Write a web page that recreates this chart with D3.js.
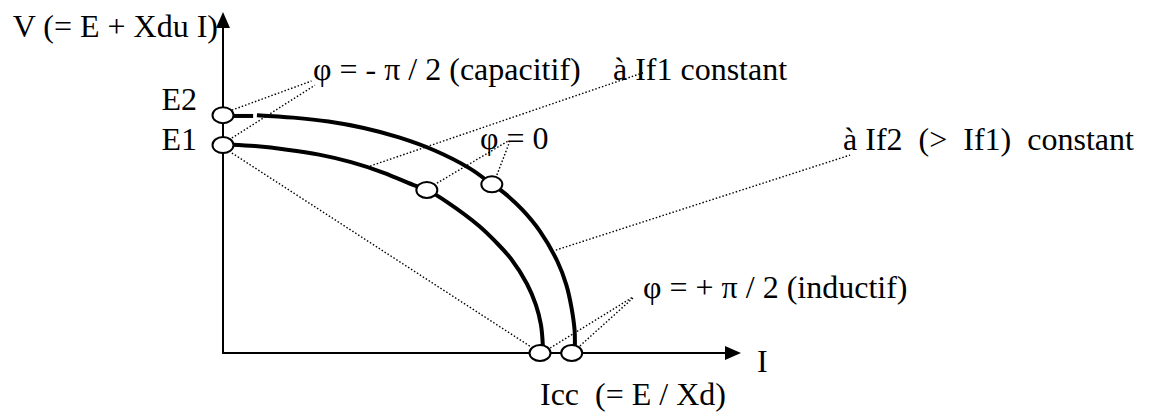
<!DOCTYPE html>
<html>
<head>
<meta charset="utf-8">
<script src="https://cdn.jsdelivr.net/npm/d3@7"></script>
<style>
  body { margin: 0; background: #fff; }
  svg { display: block; }
  text { font-family: "Liberation Serif", "Times New Roman", Times, serif; font-size: 32px; fill: #000; white-space: pre; }
</style>
</head>
<body>
<svg id="chart" width="1156" height="416"></svg>
<script>
// Units: current I scaled so that Icc at If1 = 100, voltage V scaled so that E1 = 100
const iMax = 163.4;
const vMax = 164;

// Operating characteristic V(I) at constant field current If1 (inner curve)
const if1Curve = [
  [2.8, 100.2], [10.1, 99.5], [20.2, 97.8], [30.3, 95.4], [40.4, 91.8],
  [50.5, 86.8], [60.6, 80.5], [64.4, 78.4], [70.7, 72.6], [80.8, 61.1],
  [85.8, 53.8], [90.9, 45.2], [95.9, 33.2], [98.7, 23.1], [100.3, 13.5],
  [100.9, 3.4]
];

// Operating characteristic at constant field current If2 > If1 (outer curve)
const if2Lead = [[2.8, 114], [9.5, 114]];
const if2Curve = [
  [10.7, 114.4], [22.2, 113.2], [33.3, 111.3], [44.4, 108.2], [55.5, 103.7],
  [66.6, 97.5], [77.7, 88.9], [84.9, 81.1], [88.8, 76.9], [94.4, 68.9],
  [99.9, 58.7], [105.5, 44.0], [108.3, 32.8], [109.9, 22.1], [110.9, 11.1],
  [111.0, 3.8]
];

// Characteristic points: E2, E1, phi = 0 on each curve, Icc on each curve
const pointI = [0, 0, 64.3, 84.8, 100, 110];
const pointV = [114.4, 100, 78.4, 81.1, 0, 0];

// Dotted leader lines from marks to annotations
const leaders = [
  [[2.8, 116.8], [27.9, 130.8]],
  [[2.8, 103.4], [29.0, 128.8]],
  [[2.8, 96.2], [97.2, 2.9]],
  [[46.4, 89.9], [133.1, 135.1]],
  [[67.5, 81.7], [89.9, 101.9]],
  [[86.4, 85.6], [90.5, 101.9]],
  [[105.0, 49.5], [197.8, 95.2]],
  [[103.2, 2.4], [129.3, 26.9]],
  [[112.6, 3.4], [129.3, 26.4]]
];

// Annotation texts and their anchor points (I, V)
const annotationTexts = [
  "φ = - π / 2 (capacitif)",
  "à If1 constant",
  "φ = 0",
  "à If2  (>  If1)  constant",
  "φ = + π / 2 (inductif)"
];
const annotationI = [28.4, 123.0, 81.1, 195.6, 132.5];
const annotationV = [131.25, 131.25, 98.1, 97.6, 26.4];

const axisLabelV = "V (= E + Xdu I)";
const axisLabelI = "I";
const iccLabel = "Icc  (= E / Xd)";
const eLabels = ["E2", "E1"];

const fontStack = '"Liberation Serif", "Times New Roman", Times, serif';

const svg = d3.select("#chart");
const x = d3.scaleLinear().domain([0, iMax]).range([223, 741]);
const y = d3.scaleLinear().domain([0, vMax]).range([353, 12]);

// Axes with arrow heads
const arrowLen = 16, arrowHalf = 7;
svg.append("line")
  .attr("x1", x(0)).attr("y1", y(0) + 1)
  .attr("x2", x(0)).attr("y2", y(vMax) + arrowLen)
  .attr("stroke", "#000").attr("stroke-width", 2);
svg.append("line")
  .attr("x1", x(0) - 1).attr("y1", y(0))
  .attr("x2", x(iMax) - arrowLen).attr("y2", y(0))
  .attr("stroke", "#000").attr("stroke-width", 2);
svg.append("path")
  .attr("d", `M${x(0)},${y(vMax)} L${x(0) - arrowHalf},${y(vMax) + arrowLen} L${x(0) + arrowHalf},${y(vMax) + arrowLen} Z`)
  .attr("fill", "#000");
svg.append("path")
  .attr("d", `M${x(iMax)},${y(0)} L${x(iMax) - arrowLen},${y(0) - arrowHalf} L${x(iMax) - arrowLen},${y(0) + arrowHalf} Z`)
  .attr("fill", "#000");

// Leaders
svg.append("g").selectAll("line").data(leaders).join("line")
  .attr("x1", d => x(d[0][0])).attr("y1", d => y(d[0][1]))
  .attr("x2", d => x(d[1][0])).attr("y2", d => y(d[1][1]))
  .attr("stroke", "#000").attr("stroke-width", 1.4)
  .attr("stroke-dasharray", "1.5 2");

// Curves
const line = d3.line().x(d => x(d[0])).y(d => y(d[1])).curve(d3.curveCatmullRom.alpha(0.5));
[if1Curve, if2Curve, if2Lead].forEach(c => {
  svg.append("path").attr("d", line(c))
    .attr("fill", "none").attr("stroke", "#000").attr("stroke-width", 4);
});

// Point markers
svg.append("g").selectAll("ellipse").data(pointI.map((v, k) => [v, pointV[k]])).join("ellipse")
  .attr("cx", d => x(d[0])).attr("cy", d => y(d[1]))
  .attr("rx", 10.5).attr("ry", 8)
  .attr("fill", "#fff").attr("stroke", "#000").attr("stroke-width", 2);

// Labels
const labels = svg.append("g").style("font-family", fontStack).style("font-size", "32px");
labels.append("text").attr("x", x(0) - 5).attr("y", y(vMax) + 25)
  .attr("text-anchor", "end").text(axisLabelV);
labels.append("text").attr("x", x(iMax) + 16).attr("y", y(0) + 19).text(axisLabelI);
labels.append("text").attr("x", x(100)).attr("y", y(0) + 52).attr("xml:space", "preserve").text(iccLabel);
labels.append("text").attr("x", x(0) - 26).attr("y", y(pointV[0]) - 5)
  .attr("text-anchor", "end").text(eLabels[0]);
labels.append("text").attr("x", x(0) - 26).attr("y", y(pointV[1]) + 5)
  .attr("text-anchor", "end").text(eLabels[1]);
labels.selectAll("text.note").data(annotationTexts).join("text")
  .attr("class", "note")
  .attr("x", (d, k) => x(annotationI[k])).attr("y", (d, k) => y(annotationV[k]))
  .attr("xml:space", "preserve")
  .text(d => d);
</script>
</body>
</html>
